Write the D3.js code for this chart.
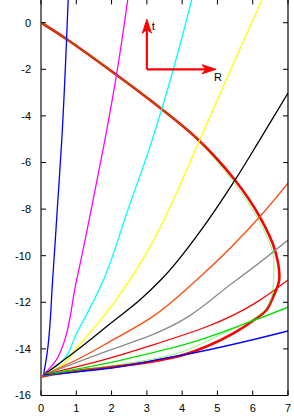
<!DOCTYPE html>
<html>
<head>
<meta charset="utf-8">
<script src="https://cdn.jsdelivr.net/npm/d3@7"></script>
<style>
  body { margin: 0; background: #fff; }
  svg { display: block; }
  text { font-family: "Liberation Sans", Arial, sans-serif; font-size: 11px; fill: #000; }
</style>
</head>
<body>
<div id="chart"></div>
<script>
// Curves, each as [R, t] pairs
const surface = [[0, 0], [0.73, -0.71], [2.14, -2.24], [3.09, -3.32], [4.41, -4.96], [5.5, -6.76],
    [6.2, -8.33], [6.63, -9.76], [6.75, -11.04], [6.58, -11.76], [6.39, -12.33], [6.01, -12.79],
    [5.45, -13.33], [4.69, -13.9], [4.03, -14.26], [3.0, -14.58], [1.95, -14.79], [1.01, -14.95],
    [0.3, -15.1], [0, -15.2]];
const surfaceThin = [[0, 0], [0.73, -0.71], [2.14, -2.24], [3.09, -3.32], [4.41, -4.98], [5.42, -6.78],
    [6.1, -8.3], [6.55, -9.76], [6.6, -10.5], [6.58, -11.3], [6.49, -12.04], [6.25, -12.47],
    [5.92, -12.8], [5.0, -13.45], [4.69, -13.68], [3.94, -14.16], [3.0, -14.48], [2.0, -14.72],
    [1.0, -14.93], [0.3, -15.1], [0, -15.2]];

const fanBlue = [[0.07, -15.12], [0.16, -14.33], [0.33, -11.04], [0.46, -8.04], [0.59, -5.0], [0.77, 1.0]];
const fanMagenta = [[0.07, -15.12], [0.49, -14.33], [1.01, -11.04], [1.42, -8.04], [1.81, -5.04], [2.14, -2.24], [2.46, 1.0]];
const fanCyan = [[0.07, -15.12], [0.54, -14.62], [1.01, -13.33], [1.77, -11.04], [2.46, -8.04], [3.09, -5.32], [3.75, -2.0], [4.27, 0.97]];
const fanYellow = [[0.07, -15.12], [0.54, -14.76], [1.01, -13.96], [1.67, -12.8], [2.52, -11.04], [3.09, -9.61], [4.5, -5.03], [5.41, -1.89], [6.26, 0.97]];
const fanBlack = [[0.07, -15.12], [1.1, -13.96], [1.95, -12.93], [2.8, -11.9], [3.42, -11.0], [4.5, -8.98], [5.5, -6.75], [6.2, -5.03], [7.0, -3.02]];
const fanOrange = [[0.07, -15.12], [1.1, -14.4], [1.95, -13.69], [3.09, -12.69], [4.41, -11.04], [6.2, -8.33], [7.0, -6.89]];
const fanGray = [[0.07, -15.12], [1.95, -14.05], [3.09, -13.43], [5.54, -11.04], [7.0, -9.33]];
const fanRed = [[0.07, -15.12], [1.95, -14.4], [3.09, -13.87], [4.69, -13.05], [7.0, -11.04]];
const fanGreen = [[0.07, -15.12], [1.95, -14.59], [3.09, -14.19], [4.03, -13.83], [6.01, -12.79], [7.0, -12.21]];
const fanBlueLow = [[0.07, -15.12], [1.95, -14.83], [3.09, -14.52], [4.03, -14.26], [7.0, -13.23]];

const xTicks = [0, 1, 2, 3, 4, 5, 6, 7];
const yTicks = [0, -2, -4, -6, -8, -10, -12, -14, -16];

// Axis arrows: origin and tips in data units
const arrowOrigin = [3, -2];
const arrowTipT = [3, 0.15];
const arrowTipR = [4.96, -2];

const width = 294, height = 419;
const margin = { top: -0.6, right: 6, bottom: 23.5, left: 41 };

const svg = d3.select('#chart')
    .append('svg')
    .attr('width', width)
    .attr('height', height);

const x = d3.scaleLinear().domain([0, 7]).range([margin.left, width - margin.right]);
const y = d3.scaleLinear().domain([-16, 1]).range([height - margin.bottom, margin.top]);

svg.append('clipPath').attr('id', 'plot')
    .append('rect')
    .attr('x', x(0)).attr('y', y(1))
    .attr('width', x(7) - x(0)).attr('height', y(-16) - y(1));

// Surface curve turns back on itself, so Catmull-Rom there;
// fan curves rise steadily in t, so monotone in y keeps them smooth
const loopLine = d3.line()
    .x(d => x(d[0]))
    .y(d => y(d[1]))
    .curve(d3.curveCatmullRom.alpha(0.5));
const fanLine = d3.line()
    .x(d => x(d[0]))
    .y(d => y(d[1]))
    .curve(d3.curveMonotoneY);

const plot = svg.append('g').attr('clip-path', 'url(#plot)');

// Thick star surface first, fan curves on top
plot.append('path')
    .attr('d', loopLine(surface))
    .attr('fill', 'none')
    .attr('stroke', '#ff0000')
    .attr('stroke-width', 2.6);

const fans = [
    { pts: fanBlue, color: '#0000ff' },
    { pts: fanMagenta, color: '#ff00ff' },
    { pts: fanCyan, color: '#00ffff' },
    { pts: fanYellow, color: '#ffff00' },
    { pts: fanBlack, color: '#000000' },
    { pts: fanOrange, color: '#ff4a10' },
    { pts: fanGray, color: '#8c8c8c' },
    { pts: fanRed, color: '#ff0000' },
    { pts: fanGreen, color: '#00e000' },
    { pts: fanBlueLow, color: '#0000ff' }
];

fans.forEach(f => {
    plot.append('path')
        .attr('d', fanLine(f.pts))
        .attr('fill', 'none')
        .attr('stroke', f.color)
        .attr('stroke-width', 1.3);
});

plot.append('path')
    .attr('d', loopLine(surfaceThin))
    .attr('fill', 'none')
    .attr('stroke', '#00ff00')
    .attr('stroke-width', 1)
    .attr('stroke-opacity', 0.5);

// Arrows
function arrow(from, to) {
    const x0 = x(from[0]), y0 = y(from[1]), x1 = x(to[0]), y1 = y(to[1]);
    const ang = Math.atan2(y1 - y0, x1 - x0);
    const len = 14, half = 4.5, notch = 10;
    const ux = Math.cos(ang), uy = Math.sin(ang);
    const bx = x1 - ux * len, by = y1 - uy * len;
    const nx = x1 - ux * notch, ny = y1 - uy * notch;
    svg.append('line')
        .attr('x1', x0).attr('y1', y0)
        .attr('x2', nx).attr('y2', ny)
        .attr('stroke', '#ff0000')
        .attr('stroke-width', 2.2);
    svg.append('path')
        .attr('d', `M${x1},${y1}L${bx - uy * half},${by + ux * half}L${nx},${ny}L${bx + uy * half},${by - ux * half}Z`)
        .attr('fill', '#ff0000')
        .attr('stroke', '#ff0000')
        .attr('stroke-width', 1);
}
arrow(arrowOrigin, arrowTipT);
arrow(arrowOrigin, arrowTipR);

svg.append('text')
    .attr('x', x(arrowTipT[0]) + 5)
    .attr('y', y(arrowTipT[1]) + 11)
    .text('t');
svg.append('text')
    .attr('x', x(arrowTipR[0]) - 2)
    .attr('y', y(arrowTipR[1]) + 11.5)
    .text('R');

// Frame
const frame = svg.append('g');
frame.append('line')
    .attr('x1', x(7)).attr('x2', x(7))
    .attr('y1', y(1)).attr('y2', y(-16))
    .attr('stroke', '#000').attr('stroke-width', 1.2);
frame.append('line')
    .attr('x1', x(0)).attr('x2', x(7))
    .attr('y1', y(-16)).attr('y2', y(-16))
    .attr('stroke', '#000').attr('stroke-width', 1.2);
frame.append('line')
    .attr('x1', x(0)).attr('x2', x(0))
    .attr('y1', y(1)).attr('y2', y(-16))
    .attr('stroke', '#707070').attr('stroke-width', 2);

// Ticks on all four sides, pointing inward
const tickLen = 5;
xTicks.forEach(v => {
    frame.append('line')
        .attr('x1', x(v)).attr('x2', x(v))
        .attr('y1', y(-16)).attr('y2', y(-16) - tickLen)
        .attr('stroke', '#000').attr('stroke-width', 1);
    frame.append('line')
        .attr('x1', x(v)).attr('x2', x(v))
        .attr('y1', y(1)).attr('y2', y(1) + tickLen)
        .attr('stroke', '#000').attr('stroke-width', 1);
    frame.append('text')
        .attr('x', x(v))
        .attr('y', y(-16) + 16)
        .attr('text-anchor', 'middle')
        .text(v);
});
yTicks.forEach(v => {
    frame.append('line')
        .attr('x1', x(0)).attr('x2', x(0) + tickLen)
        .attr('y1', y(v)).attr('y2', y(v))
        .attr('stroke', '#000').attr('stroke-width', 1);
    frame.append('line')
        .attr('x1', x(7)).attr('x2', x(7) - tickLen)
        .attr('y1', y(v)).attr('y2', y(v))
        .attr('stroke', '#000').attr('stroke-width', 1);
    frame.append('text')
        .attr('x', x(0) - 10)
        .attr('y', y(v))
        .attr('dy', '0.36em')
        .attr('text-anchor', 'end')
        .text(v);
});
</script>
</body>
</html>
